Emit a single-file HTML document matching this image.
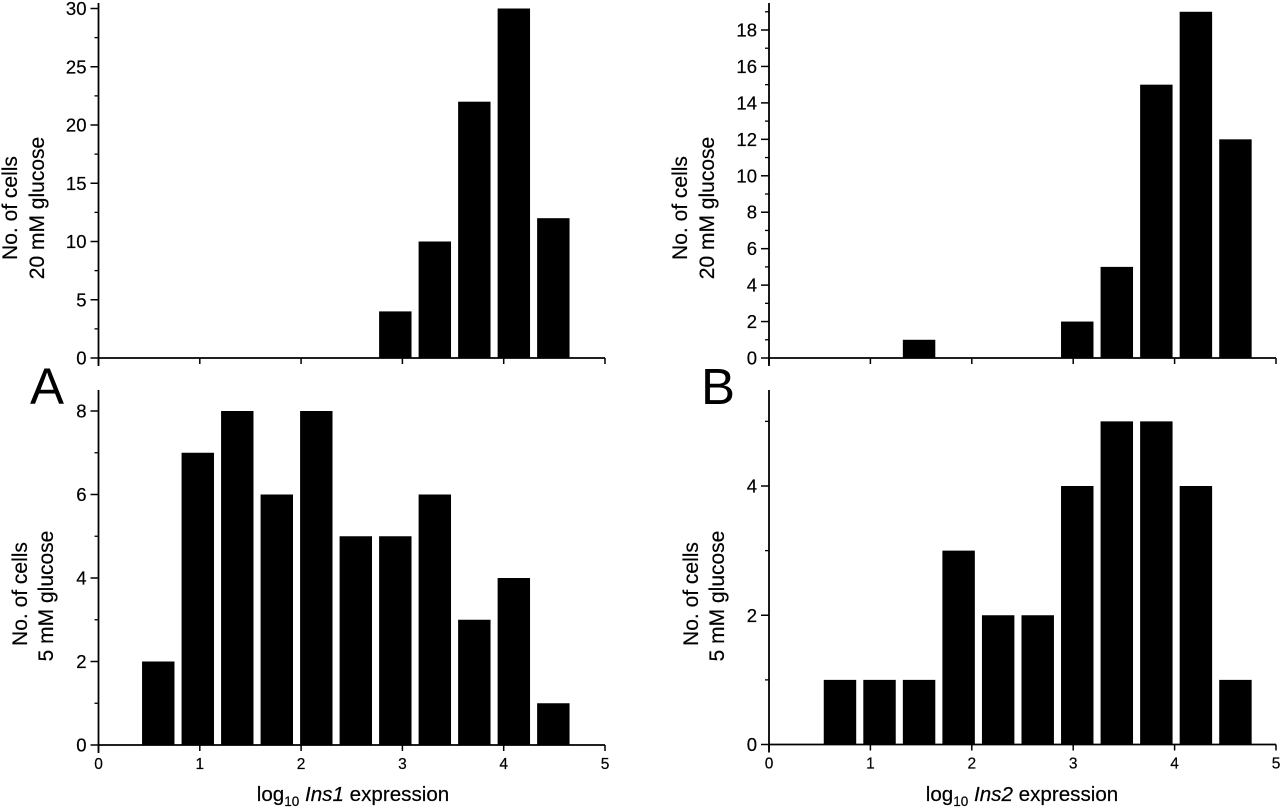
<!DOCTYPE html>
<html>
<head>
<meta charset="utf-8">
<title>Ins1 and Ins2 expression histograms</title>
<style>
html,body{margin:0;padding:0;background:#fff;width:1280px;height:810px;overflow:hidden}
svg{display:block}
text{font-family:"Liberation Sans",sans-serif;fill:#000}
.ytitle{font-size:21px;text-anchor:middle;stroke:#000;stroke-width:.2px}
.xtitle{font-size:20.6px;text-anchor:middle;stroke:#000;stroke-width:.2px}
.panel{font-size:51px}
.ytick{font-size:18.5px;text-anchor:end;stroke:#000;stroke-width:.2px}
.xtick{font-size:15.5px;text-anchor:middle;stroke:#000;stroke-width:.2px}
</style>
</head>
<body>
<svg id="figure" width="1280" height="810" viewBox="0 0 1280 810" xmlns="http://www.w3.org/2000/svg">
<rect width="1280" height="810" fill="#fff"/>

<text class="panel" x="30" y="404">A</text>
<text class="panel" x="701" y="404">B</text>

<text class="ytitle" transform="translate(17 208) rotate(-90)">No. of cells</text>
<text class="ytitle" transform="translate(44 208) rotate(-90)">20 mM glucose</text>
<text class="ytitle" transform="translate(27 594) rotate(-90)">No. of cells</text>
<text class="ytitle" transform="translate(53 596) rotate(-90)">5 mM glucose</text>
<text class="ytitle" transform="translate(687 208) rotate(-90)">No. of cells</text>
<text class="ytitle" transform="translate(714 208) rotate(-90)">20 mM glucose</text>
<text class="ytitle" transform="translate(698 594) rotate(-90)">No. of cells</text>
<text class="ytitle" transform="translate(724 596) rotate(-90)">5 mM glucose</text>

<text class="xtitle" x="353" y="801">log<tspan font-size="13.5" dy="5">10</tspan><tspan dy="-5"> </tspan><tspan font-style="italic">Ins1</tspan> expression</text>
<text class="xtitle" x="1022" y="801">log<tspan font-size="13.5" dy="5">10</tspan><tspan dy="-5"> </tspan><tspan font-style="italic">Ins2</tspan> expression</text>

<g id="plots"></g>
</svg>

<script>
// Bin centres on the log10 expression axis
const binsIns1 = [0.59, 0.98, 1.37, 1.76, 2.15, 2.54, 2.93, 3.32, 3.71, 4.10, 4.49];
const binsIns2 = [0.70, 1.09, 1.48, 1.87, 2.26, 2.65, 3.04, 3.43, 3.82, 4.21, 4.60];
const barWidthUnits = [0.32];

// Cell counts per bin
const ins1Glucose20 = [0, 0, 0, 0, 0, 0, 4, 10, 22, 30, 12];
const ins1Glucose5 = [2, 7, 8, 6, 8, 5, 5, 6, 3, 4, 1];
const ins2Glucose20 = [0, 0, 1, 0, 0, 0, 2, 5, 15, 19, 12];
const ins2Glucose5 = [1, 1, 1, 3, 2, 2, 4, 5, 5, 4, 1];

// Tick labels
const xTicks = [0, 1, 2, 3, 4, 5];
const yMajorA20 = [0, 5, 10, 15, 20, 25, 30];
const yMinorA20 = [2.5, 7.5, 12.5, 17.5, 22.5, 27.5];
const yMajorA5 = [0, 2, 4, 6, 8];
const yMinorA5 = [1, 3, 5, 7];
const yMajorB20 = [0, 2, 4, 6, 8, 10, 12, 14, 16, 18];
const yMinorB20 = [1, 3, 5, 7, 9, 11, 13, 15, 17, 19];
const yMajorB5 = [0, 2, 4];
const yMinorB5 = [1, 3, 5];

const NS = 'http://www.w3.org/2000/svg';
const root = document.getElementById('plots');

function scale(d0, d1, r0, r1) {
  return function (v) { return r0 + (v - d0) / (d1 - d0) * (r1 - r0); };
}

function line(parent, x1, y1, x2, y2, width) {
  const el = document.createElementNS(NS, 'line');
  el.setAttribute('x1', x1);
  el.setAttribute('y1', y1);
  el.setAttribute('x2', x2);
  el.setAttribute('y2', y2);
  el.setAttribute('stroke', '#000');
  el.setAttribute('stroke-width', width);
  parent.appendChild(el);
  return el;
}

function label(parent, cls, x, y, str) {
  const el = document.createElementNS(NS, 'text');
  el.setAttribute('class', cls);
  el.setAttribute('x', x);
  el.setAttribute('y', y);
  el.textContent = str;
  parent.appendChild(el);
  return el;
}

function drawPanel(id, bins, counts, majors, minors, xScale, yScale, axisTop, showXLabels) {
  const g = document.createElementNS(NS, 'g');
  
  
  root.appendChild(g);

  const base = yScale(0);
  const left = xScale(0);
  const right = xScale(5);

  // bars
  bins.forEach(function (c, i) {
    const h = base - yScale(counts[i]);
    const w = xScale(barWidthUnits[0]) - xScale(0);
    const bar = document.createElementNS(NS, 'rect');
    bar.setAttribute('x', xScale(c) - w / 2);
    bar.setAttribute('y', yScale(counts[i]));
    bar.setAttribute('width', w);
    bar.setAttribute('height', h);
    bar.setAttribute('fill', '#000');
    
    
    g.appendChild(bar);
  });

  // axes
  const yAxis = line(g, left, axisTop, left, base + 8, 1.8);
  
  
  const xAxis = line(g, left, base, right, base, 1.8);
  
  

  // x ticks
  xTicks.forEach(function (t) {
    const tk = line(g, xScale(t), base, xScale(t), base + 6, 1.5);
    
    
    if (showXLabels) {
      const lb = label(g, 'xtick', xScale(t), base + 24, String(t));
      
      
    }
  });

  // y ticks
  majors.forEach(function (t) {
    const tk = line(g, left - 8, yScale(t), left, yScale(t), 1.5);
    
    
    const lb = label(g, 'ytick', left - 12, yScale(t) + 6.5, String(t));
    
    
  });
  minors.forEach(function (t) {
    const tk = line(g, left - 4, yScale(t), left, yScale(t), 1.3);
    
    
  });
}

const xA = scale(0, 5, 98.5, 605);
const xB = scale(0, 5, 769, 1276);

drawPanel('a-20mm', binsIns1, ins1Glucose20, yMajorA20, yMinorA20, xA, scale(0, 30, 358, 8.5), 3, false);
drawPanel('a-5mm', binsIns1, ins1Glucose5, yMajorA5, yMinorA5, xA, scale(0, 8, 745, 411), 390, true);
drawPanel('b-20mm', binsIns2, ins2Glucose20, yMajorB20, yMinorB20, xB, scale(0, 18, 358, 30), 3, false);
drawPanel('b-5mm', binsIns2, ins2Glucose5, yMajorB5, yMinorB5, xB, scale(0, 4, 744.5, 486), 390, true);
</script>
</body>
</html>
